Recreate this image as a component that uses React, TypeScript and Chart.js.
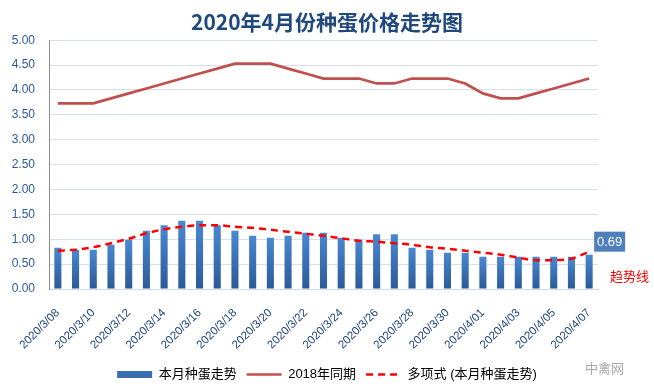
import React, { useEffect, useRef } from 'react';
import { Chart, registerables } from 'chart.js';

Chart.register(...registerables);

const TITLE = '2020年4月份种蛋价格走势图';

const categories = [
  '2020/3/08', '2020/3/09', '2020/3/10', '2020/3/11', '2020/3/12', '2020/3/13', '2020/3/14',
  '2020/3/15', '2020/3/16', '2020/3/17', '2020/3/18', '2020/3/19', '2020/3/20', '2020/3/21',
  '2020/3/22', '2020/3/23', '2020/3/24', '2020/3/25', '2020/3/26', '2020/3/27', '2020/3/28',
  '2020/3/29', '2020/3/30', '2020/3/31', '2020/4/01', '2020/4/02', '2020/4/03', '2020/4/04',
  '2020/4/05', '2020/4/06', '2020/4/07',
];

const currentPrices = [
  0.83, 0.79, 0.79, 0.89, 0.99, 1.17, 1.28, 1.37, 1.37, 1.28, 1.17, 1.07, 1.03, 1.07, 1.13,
  1.13, 1.03, 0.99, 1.10, 1.10, 0.83, 0.79, 0.73, 0.73, 0.65, 0.65, 0.65, 0.65, 0.65, 0.65, 0.69,
];

const lastYearPrices = [
  3.73, 3.73, 3.73, 3.83, 3.93, 4.03, 4.13, 4.23, 4.33, 4.43, 4.53, 4.53, 4.53, 4.43, 4.33,
  4.23, 4.23, 4.23, 4.13, 4.13, 4.23, 4.23, 4.23, 4.13, 3.93, 3.83, 3.83, 3.93, 4.03, 4.13, 4.23,
];

const trendValues = [
  0.77, 0.79, 0.84, 0.92, 1.01, 1.12, 1.20, 1.25, 1.28, 1.28, 1.25, 1.23, 1.19, 1.15, 1.11,
  1.07, 1.02, 0.97, 0.95, 0.92, 0.89, 0.84, 0.81, 0.77, 0.73, 0.69, 0.63, 0.58, 0.58, 0.61, 0.75,
];

const seriesNames = ['本月种蛋走势', '2018年同期', '多项式 (本月种蛋走势)'];
const yMin = 0;
const yMax = 5;
const yStep = 0.5;
const trendNote = '趋势线';
const watermark = '中禽网';

const FONT = '"Liberation Sans", "Noto Sans CJK SC", sans-serif';

export default function App() {
  const ref = useRef<HTMLCanvasElement>(null);

  useEffect(() => {
    document.body.style.margin = '0';
    const canvas = ref.current;
    if (!canvas) return;

    const barFill = (ctx: any) => {
      const chart = ctx.chart;
      if (ctx.type !== 'data' || !chart.chartArea) return '#3b70b3';
      const ys = chart.scales.y;
      const top = ys.getPixelForValue(ctx.raw);
      const bottom = ys.getPixelForValue(0);
      if (!isFinite(top) || bottom - top < 1) return '#3b70b3';
      const g = chart.ctx.createLinearGradient(0, top, 0, bottom);
      g.addColorStop(0, '#4a88d2');
      g.addColorStop(1, '#2c5a97');
      return g;
    };

    const annotations = {
      id: 'annotations',
      afterDatasetsDraw(chart: any) {
        const c = chart.ctx;
        const meta = chart.getDatasetMeta(0);
        const last = meta.data[meta.data.length - 1];
        const lastVal = currentPrices[currentPrices.length - 1];
        c.save();
        const bx = last.x + 5;
        const by = last.y - 23;
        c.fillStyle = '#4f7fba';
        c.fillRect(bx, by, 31, 20);
        c.fillStyle = '#ffffff';
        c.font = '13px ' + FONT;
        c.textAlign = 'center';
        c.textBaseline = 'middle';
        c.fillText(lastVal.toFixed(2), bx + 15.5, by + 10.5);
        c.fillStyle = '#ff0000';
        c.font = '13px "Noto Sans CJK SC", sans-serif';
        c.textAlign = 'left';
        c.fillText(trendNote, chart.chartArea.right + 12, chart.chartArea.bottom - 13);
        c.fillStyle = '#a8a8a8';
        c.font = '13px "Noto Sans CJK SC", sans-serif';
        c.fillText(watermark, 585, 368);
        c.restore();
      },
    };

    const chart = new Chart(canvas, {
      type: 'bar',
      data: {
        labels: categories,
        datasets: [
          {
            type: 'bar',
            label: seriesNames[0],
            data: currentPrices,
            backgroundColor: barFill,
            borderWidth: 0,
            barPercentage: 0.4,
            categoryPercentage: 1,
            order: 3,
          },
          {
            type: 'line',
            label: seriesNames[1],
            data: lastYearPrices,
            borderColor: '#c0504d',
            borderWidth: 2.75,
            pointRadius: 0,
            tension: 0,
            fill: false,
            order: 2,
          },
          {
            type: 'line',
            label: seriesNames[2],
            data: trendValues,
            borderColor: '#ff0000',
            borderWidth: 2.5,
            borderDash: [7, 5],
            pointRadius: 0,
            tension: 0.4,
            cubicInterpolationMode: 'monotone',
            fill: false,
            order: 1,
          },
        ],
      } as any,
      options: {
        responsive: false,
        animation: false,
        events: [],
        layout: { padding: { left: 0, right: 0, top: 0, bottom: 1 } },
        plugins: {
          title: {
            display: true,
            text: TITLE,
            color: '#1f497d',
            font: { family: '"Noto Sans CJK SC", sans-serif', size: 21, weight: 'bold' },
            padding: { top: 9, bottom: 6 },
          },
          tooltip: { enabled: false },
          legend: {
            display: true,
            position: 'bottom',
            labels: {
              color: '#1a1a1a',
              font: { family: FONT, size: 13 },
              usePointStyle: true,
              pointStyleWidth: 35,
              boxHeight: 7,
              padding: 10,
              generateLabels: () => [
                {
                  text: seriesNames[0],
                  fillStyle: '#3a6db0',
                  strokeStyle: 'rgba(0,0,0,0)',
                  lineWidth: 0,
                  pointStyle: 'rect',
                  datasetIndex: 0,
                  hidden: false,
                },
                {
                  text: seriesNames[1],
                  fillStyle: 'rgba(0,0,0,0)',
                  strokeStyle: '#c0504d',
                  lineWidth: 2.5,
                  pointStyle: 'line',
                  datasetIndex: 1,
                  hidden: false,
                },
                {
                  text: seriesNames[2],
                  fillStyle: 'rgba(0,0,0,0)',
                  strokeStyle: '#ff0000',
                  lineWidth: 2.5,
                  lineDash: [7, 5],
                  pointStyle: 'line',
                  datasetIndex: 2,
                  hidden: false,
                },
              ],
            },
          },
        },
        scales: {
          x: {
            grid: { display: false, drawTicks: false },
            border: { display: true, color: '#d3dbe6', width: 1 },
            ticks: {
              autoSkip: false,
              minRotation: 45,
              maxRotation: 45,
              padding: 17,
              color: '#22457c',
              font: { family: FONT, size: 11.5 },
              callback: (_v: any, i: number) => (i % 2 === 0 ? categories[i] : ''),
            },
            afterFit: (s: any) => {
              s.height = 69;
            },
          },
          y: {
            min: yMin,
            max: yMax,
            position: 'left',
            grid: { color: '#d6e0ed', lineWidth: 1, drawTicks: false },
            border: { display: true, color: '#8a8a8a', width: 1 },
            ticks: {
              stepSize: yStep,
              padding: 14,
              color: '#2d5aa0',
              font: { family: FONT, size: 12 },
              callback: (v: any) => Number(v).toFixed(2),
            },
            afterFit: (s: any) => {
              s.width = 49;
            },
          },
          yR: {
            type: 'linear',
            position: 'right',
            display: true,
            grid: { display: false, drawTicks: false },
            border: { display: false },
            ticks: { display: false },
            afterFit: (s: any) => {
              s.width = 56;
            },
          },
        },
      } as any,
      plugins: [annotations],
    });

    return () => {
      chart.destroy();
    };
  }, []);

  return (
    <div style={{ width: 654, height: 392, background: '#ffffff' }}>
      <canvas ref={ref} width={654} height={392} style={{ display: 'block' }} />
    </div>
  );
}
